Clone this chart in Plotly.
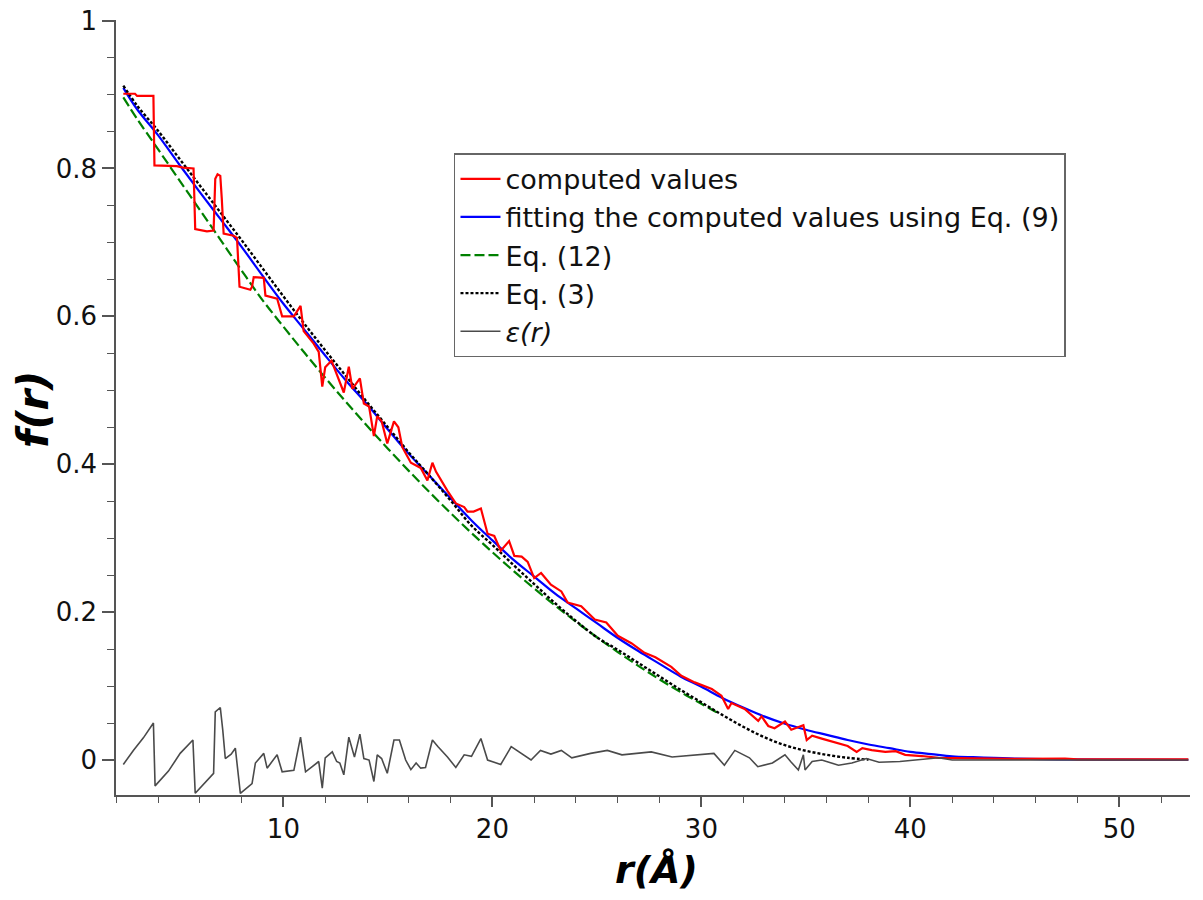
import plotly.graph_objects as go

# ---------------- data ----------------
# computed values (red)
red_r = [2.34, 2.9, 3.0, 3.78, 3.83, 4.9, 5.2, 5.70, 5.78, 6.34, 6.66, 6.74, 6.85, 6.98,
         7.05, 7.14, 7.62, 7.78, 7.9, 8.42, 8.50, 8.58, 9.06, 9.14, 9.70, 9.94, 10.5,
         10.82, 10.97, 11.45, 11.69, 11.86, 12.0, 12.3, 12.89, 13.13, 13.3, 13.66, 13.85,
         14.1, 14.33, 14.49, 14.7, 14.97, 15.29, 15.5, 15.69, 16.1, 16.57, 16.89, 17.13,
         17.3, 17.85, 18.25, 18.65, 18.81, 19.1, 19.45, 19.77, 20.09, 20.4, 20.8, 21.05,
         21.4, 21.69, 22.0, 22.33, 22.8, 23.3, 23.6, 24.25, 24.9, 25.45, 26.0, 26.65,
         27.28, 27.8, 28.56, 29.04, 29.68, 30.5, 30.96, 31.28, 31.44, 32.07, 32.72, 32.88,
         33.2, 33.5, 34.0, 34.3, 34.88, 35.04, 35.3, 35.76, 36.56, 37.0, 37.43, 37.7,
         38.15, 38.8, 39.3, 39.75, 40.55, 41.35, 42.95, 45.0, 47.4, 48.0, 50.0, 53.3]
red_f = [0.901, 0.901, 0.898, 0.898, 0.804, 0.803, 0.801, 0.800, 0.718, 0.715, 0.716, 0.786, 0.792, 0.790,
         0.760, 0.712, 0.709, 0.706, 0.640, 0.636, 0.640, 0.653, 0.652, 0.628, 0.624, 0.600, 0.600,
         0.614, 0.580, 0.563, 0.552, 0.505, 0.531, 0.540, 0.497, 0.532, 0.502, 0.516, 0.482,
         0.478, 0.438, 0.465, 0.458, 0.428, 0.458, 0.450, 0.423, 0.402, 0.395, 0.378, 0.402,
         0.390, 0.364, 0.347, 0.342, 0.336, 0.336, 0.340, 0.306, 0.303, 0.283, 0.296, 0.276,
         0.275, 0.268, 0.246, 0.253, 0.237, 0.228, 0.213, 0.208, 0.190, 0.186, 0.168, 0.158,
         0.145, 0.139, 0.126, 0.114, 0.105, 0.096, 0.087, 0.069, 0.077, 0.069, 0.053, 0.059,
         0.046, 0.043, 0.052, 0.041, 0.047, 0.027, 0.033, 0.029, 0.022, 0.019, 0.011, 0.016,
         0.0135, 0.011, 0.012, 0.007, 0.0054, 0.003, 0.0023, 0.0015, 0.002, 0.001, 0.001, 0.001]

# fitting the computed values using Eq. (9) (blue)
fit_r = [2.34, 3, 4, 5, 6, 7, 8, 9, 10, 11, 12, 13, 14, 15, 16, 17, 18, 19, 20, 21, 22, 23,
         24, 25, 26, 27, 28, 29, 30, 31, 32, 33, 34, 35, 36, 37, 38, 39, 40, 41, 42, 43, 44,
         45, 47, 50, 53.3]
fit_f = [0.909, 0.880, 0.845, 0.806, 0.768, 0.731, 0.694, 0.655, 0.617, 0.582, 0.547, 0.513,
         0.481, 0.447, 0.414, 0.384, 0.354, 0.324, 0.297, 0.271, 0.248, 0.225, 0.205, 0.185,
         0.165, 0.147, 0.130, 0.113, 0.099, 0.084, 0.071, 0.059, 0.049, 0.041, 0.034, 0.027,
         0.021, 0.016, 0.011, 0.008, 0.005, 0.0038, 0.003, 0.002, 0.001, 0.0006, 0.0004]

# Eq. (12) (green dashed)
eq12_r = [2.34, 3, 4, 5, 6, 7, 8, 9, 10, 11, 12, 13, 14, 15, 16, 17, 18, 19, 20, 21, 22, 23,
          24, 25, 26, 27, 28, 29, 30, 30.9]
eq12_f = [0.896, 0.867, 0.826, 0.785, 0.744, 0.703, 0.662, 0.622, 0.586, 0.551, 0.517, 0.484,
          0.452, 0.421, 0.391, 0.362, 0.334, 0.307, 0.281, 0.256, 0.232, 0.209, 0.187, 0.166,
          0.146, 0.127, 0.109, 0.092, 0.076, 0.062]

# Eq. (3) (black dotted)
eq3_r = [2.34, 3, 4, 5, 6, 7, 8, 9, 10, 11, 12, 13, 14, 15, 16, 17, 18, 19, 20, 21, 22, 23,
         24, 25, 26, 27, 28, 29, 30, 31, 32, 33, 34, 35, 36, 37, 38]
eq3_f = [0.912, 0.885, 0.851, 0.814, 0.777, 0.740, 0.703, 0.665, 0.627, 0.590, 0.554, 0.519,
         0.484, 0.450, 0.416, 0.384, 0.351, 0.317, 0.291, 0.264, 0.238, 0.212, 0.188, 0.166,
         0.149, 0.131, 0.113, 0.095, 0.078, 0.061, 0.045, 0.031, 0.020, 0.0125, 0.007, 0.003,
         0.0005]

# epsilon(r) (dark grey)
eps_r = [2.34, 2.82, 3.3, 3.78, 3.86, 4.5, 5.06, 5.67, 5.78, 6.66, 6.74, 6.98, 7.1, 7.22, 7.5,
         7.70, 7.94, 8.5, 8.66, 9.06, 9.22, 9.70, 9.94, 10.5, 10.82, 11.06, 11.69, 11.86, 12.0,
         12.34, 12.55, 12.7, 12.89, 13.13, 13.4, 13.66, 13.85, 14.1, 14.33, 14.49, 14.7, 14.97,
         15.29, 15.55, 15.85, 16.1, 16.35, 16.57, 16.8, 17.13, 17.4, 17.85, 18.25, 18.65, 19.0,
         19.45, 19.77, 20.4, 20.9, 21.4, 21.85, 22.3, 22.8, 23.3, 23.8, 24.7, 25.5, 26.2, 27.1,
         27.6, 28.6, 29.7, 30.6, 31.1, 31.6, 32.3, 32.7, 33.4, 34.0, 34.3, 34.64, 34.88, 34.96,
         35.3, 35.76, 36.56, 37.2, 37.9, 38.5, 39.5, 40.5, 41.35, 42.0, 44.0, 47.5, 53.3]
eps_f = [-0.006, 0.013, 0.030, 0.050, -0.035, -0.015, 0.009, 0.027, -0.045, -0.018, 0.065, 0.071,
         0.040, 0.002, 0.008, 0.016, -0.045, -0.032, -0.004, 0.009, -0.011, 0.007, -0.016, -0.014,
         0.031, -0.016, -0.002, -0.038, 0.003, 0.011, -0.002, -0.004, -0.020, 0.031, 0.004, 0.035,
         0.002, 0.0, -0.029, 0.007, 0.002, -0.018, 0.027, 0.027, 0.0, -0.013, -0.004, -0.011,
         -0.010, 0.027, 0.018, 0.004, -0.010, 0.007, 0.005, 0.029, 0.0, -0.006, 0.018, 0.009,
         0.0, 0.013, 0.008, 0.013, 0.003, 0.009, 0.013, 0.007, 0.009, 0.011, 0.004, 0.007, 0.009,
         -0.007, 0.013, 0.003, -0.009, -0.004, 0.007, -0.003, -0.0135, 0.007, -0.0135, -0.002,
         0.0, -0.007, -0.004, 0.002, -0.003, -0.002, 0.001, 0.003, 0.0, 0.0, 0.0, 0.0]

x_range = [1.99, 53.38]
y_range = [-0.0473, 1.0007]

FONT = "DejaVu Sans"

fig = go.Figure()

fig.add_trace(go.Scatter(x=fit_r, y=fit_f, mode="lines", name="fitting the computed values using Eq. (9)",
                         line=dict(color="#0000ff", width=2.2, shape="spline"), legendrank=2))
fig.add_trace(go.Scatter(x=eq12_r, y=eq12_f, mode="lines", name="Eq. (12)",
                         line=dict(color="#008000", width=2.2, dash="10px,4px", shape="spline"), legendrank=3))
fig.add_trace(go.Scatter(x=eq3_r, y=eq3_f, mode="lines", name="Eq. (3)",
                         line=dict(color="#000000", width=2.4, dash="3px,2px", shape="spline"), legendrank=4))
fig.add_trace(go.Scatter(x=red_r, y=red_f, mode="lines", name="computed values",
                         line=dict(color="#ff0000", width=2.2), legendrank=1))
fig.add_trace(go.Scatter(x=eps_r, y=eps_f, mode="lines", name="<i>ε(r)</i>",
                         line=dict(color="#4a4a4a", width=1.6), legendrank=5))

axis_color = "#555555"
fig.update_layout(
    width=1203, height=900,
    margin=dict(l=116, r=13, t=20, b=105),
    paper_bgcolor="white", plot_bgcolor="white",
    font=dict(family=FONT, color="#111111"),
    showlegend=True,
    legend=dict(
        x=0.3147, y=0.828, xanchor="left", yanchor="top",
        bgcolor="white", bordercolor="#666666", borderwidth=1.5,
        font=dict(family=FONT, size=27, color="#111111"),
        tracegroupgap=0, itemwidth=40,
    ),
    xaxis=dict(
        range=x_range, showgrid=False, zeroline=False, automargin=False,
        showline=True, linecolor=axis_color, linewidth=1.5,
        ticks="outside", tick0=0, dtick=10, ticklen=10, tickwidth=1.5, tickcolor=axis_color,
        tickfont=dict(family=FONT, size=26, color="#111111"),
        minor=dict(dtick=2, tick0=0, ticks="outside", ticklen=6, tickwidth=1.2, tickcolor=axis_color),
    ),
    yaxis=dict(
        range=y_range, showgrid=False, zeroline=False, automargin=False,
        showline=True, linecolor=axis_color, linewidth=1.5, ticklabeloverflow="allow",
        ticks="outside", tick0=0, dtick=0.2, ticklen=12, tickwidth=1.5, tickcolor=axis_color,
        tickfont=dict(family=FONT, size=26, color="#111111"),
        minor=dict(dtick=0.05, tick0=0, ticks="outside", ticklen=7, tickwidth=1.2, tickcolor=axis_color),
    ),
    annotations=[
        dict(text="<b><i>r(Å)</i></b>", xref="paper", yref="paper", x=0.503, y=-0.0968,
             xanchor="center", yanchor="middle", showarrow=False,
             font=dict(family=FONT, size=38, color="#000000")),
        dict(text="<b><i>f(r)</i></b>", xref="paper", yref="paper", x=-0.0763, y=0.497,
             xanchor="center", yanchor="middle", showarrow=False, textangle=-90,
             font=dict(family=FONT, size=42, color="#000000")),
    ],
)

# remove the default 8 px page margin so the figure fills the window exactly
fig.write_html("out.html", config={"displayModeBar": False},
               post_script="document.body.style.margin='0px';document.body.style.overflow='hidden';")
